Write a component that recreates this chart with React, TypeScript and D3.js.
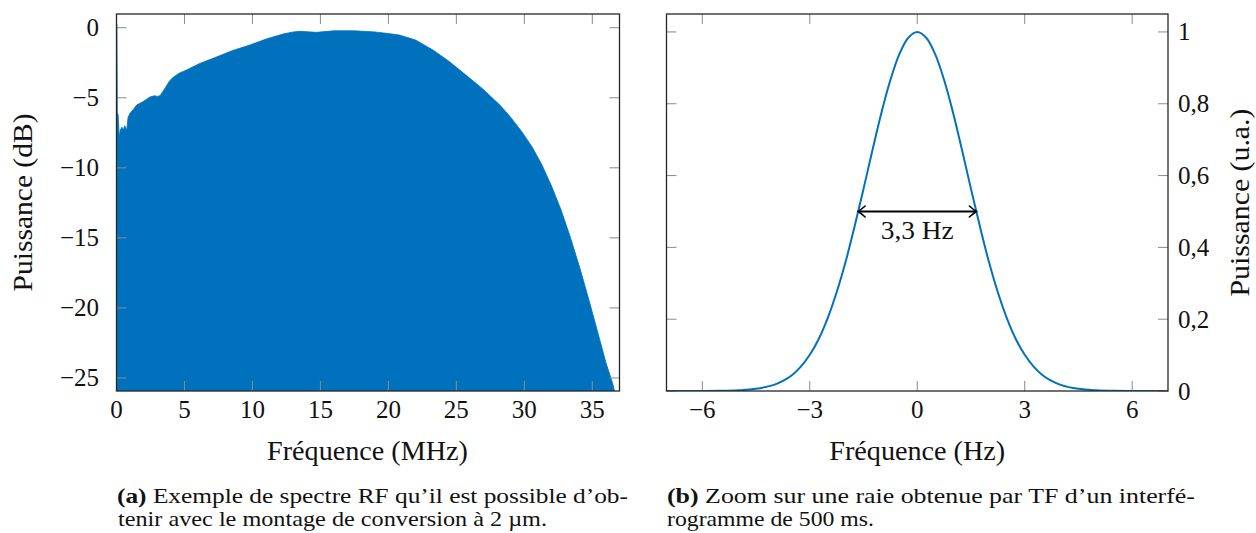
import React, { useLayoutEffect, useRef } from "react";
import * as d3 from "d3";

// ---- Left chart: RF spectrum (envelope of the dense bars) ----
const rfFreqMHz = [0, 0.03, 0.06, 0.12, 0.2, 0.28, 0.4, 0.5, 0.6, 0.75, 0.85, 1.0, 1.22, 1.5, 1.71, 2.0, 2.45, 2.8, 3.0, 3.2, 3.45, 3.68, 3.9, 4.16, 4.6, 5.15, 6.12, 7.3, 8.5, 9.8, 11.0, 12.25, 13.0, 13.5, 14.7, 16.0, 17.5, 19.0, 20.0, 20.8, 22.0, 23.3, 24.5, 25.7, 26.9, 28.2, 29.0, 29.8, 30.6, 31.3, 32.0, 32.7, 33.4, 34.1, 34.8, 35.5, 36.0, 36.5, 36.65];
const rfPowerDb = [0.25, 0.25, -6.1, -6.2, -7.8, -7.3, -7.1, -7.3, -7.0, -7.3, -6.4, -6.1, -5.85, -5.5, -5.4, -5.25, -4.95, -4.85, -4.9, -4.85, -4.5, -4.15, -3.8, -3.55, -3.25, -3.02, -2.55, -2.11, -1.64, -1.24, -0.81, -0.45, -0.3, -0.26, -0.33, -0.22, -0.22, -0.3, -0.42, -0.52, -0.88, -1.6, -2.43, -3.38, -4.33, -5.52, -6.4, -7.4, -8.55, -9.8, -11.3, -13.0, -15.0, -17.2, -19.6, -22.1, -23.9, -25.4, -26];
const leftXTicks = [0, 5, 10, 15, 20, 25, 30, 35];
const leftYTicks = [0, -5, -10, -15, -20, -25];

// ---- Right chart: zoom on one line ----
const lineFreqHz = [-7, -6, -5.5, -5, -4.5, -4, -3.75, -3.5, -3.25, -3, -2.75, -2.5, -2.25, -2, -1.75, -1.5, -1.25, -1, -0.75, -0.5, -0.25, 0, 0.25, 0.5, 0.75, 1, 1.25, 1.5, 1.75, 2, 2.25, 2.5, 2.75, 3, 3.25, 3.5, 3.75, 4, 4.5, 5, 5.5, 6, 7];
const linePower = [0, 0.0001, 0.0005, 0.002, 0.006, 0.017, 0.028, 0.044, 0.068, 0.101, 0.145, 0.203, 0.275, 0.36, 0.458, 0.563, 0.671, 0.775, 0.866, 0.938, 0.984, 1, 0.984, 0.938, 0.866, 0.775, 0.671, 0.563, 0.458, 0.36, 0.275, 0.203, 0.145, 0.101, 0.068, 0.044, 0.028, 0.017, 0.006, 0.002, 0.0005, 0.0001, 0];
const rightXTicks = [-6, -3, 0, 3, 6];
const rightYTicks = [0, 0.2, 0.4, 0.6, 0.8, 1];
const fwhmHz = 3.3;
const fwhmLabel = "3,3 Hz";

const FONT = "Liberation Serif, Times New Roman, Times, serif";
const BLUE = "#0072BD";
const FRAME = "#262626";
const TICK = "#8a8a8a";
const TICK_LEN = 10;
const TXT = "#111";

const fmtMinus = (v: number) => (v < 0 ? "\u2212" + Math.abs(v) : String(v));
const fmtComma = (v: number) => String(v).replace(".", ",");

const T = (props: any) => <text {...props} style={{ fontFamily: FONT }} fill={TXT} />;

export default function App() {
  const svgRef = useRef<SVGSVGElement | null>(null);

  // Fit axis titles to the widths measured on the reference (font size within limits, then pinned length).
  useLayoutEffect(() => {
    if (!svgRef.current) return;
    d3.select(svgRef.current)
      .selectAll<SVGTextElement, unknown>("text[data-fit]")
      .each(function () {
        const target = +(this.getAttribute("data-fit") || 0);
        const base = +(this.getAttribute("data-base") || 20);
        this.removeAttribute("textLength");
        this.setAttribute("font-size", String(base));
        const w = this.getComputedTextLength();
        if (w > 0) {
          const fs = Math.max(base * 0.9, Math.min(base * 1.08, (base * target) / w));
          this.setAttribute("font-size", String(fs));
        }
        this.setAttribute("textLength", String(target));
        this.setAttribute("lengthAdjust", "spacingAndGlyphs");
      });
  }, []);

  // Left plot geometry
  const L = { x0: 116.5, x1: 619.5, y0: 14, y1: 391 };
  const lx = d3.scaleLinear().domain([0, 37]).range([L.x0, L.x1]);
  const ly = d3.scaleLinear().domain([-25.93, 0.98]).range([L.y1, L.y0]);
  const rfData = rfFreqMHz.map((f, i) => [f, rfPowerDb[i]] as [number, number]);
  const rfArea = d3
    .area<[number, number]>()
    .x((d) => lx(d[0]))
    .y0(L.y1)
    .y1((d) => ly(d[1]))
    .curve(d3.curveLinear)(rfData) as string;

  // Right plot geometry
  const R = { x0: 666.5, x1: 1168, y0: 14, y1: 391 };
  const rx = d3.scaleLinear().domain([-7, 7]).range([R.x0, R.x1]);
  const ry = d3.scaleLinear().domain([0, 1.05]).range([R.y1, R.y0]);
  const lineData = lineFreqHz.map((f, i) => [f, linePower[i]] as [number, number]);
  const linePath = d3
    .line<[number, number]>()
    .x((d) => rx(d[0]))
    .y((d) => ry(d[1]))
    .curve(d3.curveCatmullRom)(lineData) as string;

  const ax1 = rx(-fwhmHz / 2);
  const ax2 = rx(fwhmHz / 2);
  const ay = ry(0.5);

  const arrowHead = (tipX: number, dir: number) => {
    const b = 7 * dir;
    return `M${tipX + b},${ay - 5.5} Q${tipX + b * 0.35},${ay - 1.5} ${tipX},${ay} Q${tipX + b * 0.35},${ay + 1.5} ${tipX + b},${ay + 5.5}`;
  };

  return (
    <svg
      ref={svgRef}
      width={1256}
      height={533}
      style={{ position: "absolute", left: 0, top: 0, background: "#fff", fontFamily: FONT }}
    >
      <defs>
        <clipPath id="clipL">
          <rect x={L.x0} y={L.y0} width={L.x1 - L.x0} height={L.y1 - L.y0} />
        </clipPath>
        <clipPath id="clipR">
          <rect x={R.x0} y={R.y0} width={R.x1 - R.x0} height={R.y1 - R.y0} />
        </clipPath>
      </defs>

      {/* ---------- Left chart ---------- */}
      <g clipPath="url(#clipL)">
        <path d={rfArea} fill={BLUE} stroke={BLUE} strokeWidth={0.8} />
      </g>
      {leftXTicks.map((t) => (
        <g key={"lxt" + t} stroke={TICK} strokeWidth={1}>
          <line x1={lx(t)} x2={lx(t)} y1={L.y1} y2={L.y1 - TICK_LEN} />
          <line x1={lx(t)} x2={lx(t)} y1={L.y0} y2={L.y0 + TICK_LEN} />
        </g>
      ))}
      {leftYTicks.map((t) => (
        <g key={"lyt" + t} stroke={TICK} strokeWidth={1}>
          <line x1={L.x0} x2={L.x0 + TICK_LEN} y1={ly(t)} y2={ly(t)} />
          <line x1={L.x1} x2={L.x1 - TICK_LEN} y1={ly(t)} y2={ly(t)} />
        </g>
      ))}
      <rect x={L.x0} y={L.y0} width={L.x1 - L.x0} height={L.y1 - L.y0} fill="none" stroke={FRAME} strokeWidth={1.3} />
      {leftXTicks.map((t) => (
        <T key={"lxl" + t} x={lx(t)} y={418} fontSize={25} textAnchor="middle">
          {fmtMinus(t)}
        </T>
      ))}
      {leftYTicks.map((t) => (
        <T key={"lyl" + t} x={99} y={ly(t) + 8.5} fontSize={25} textAnchor="end">
          {fmtMinus(t)}
        </T>
      ))}
      <T x={367.5} y={460} fontSize={26} data-base={26} data-fit={201} textAnchor="middle">
        Fréquence (MHz)
      </T>
      <T
        transform={`translate(32,${(L.y0 + L.y1) / 2}) rotate(-90)`}
        fontSize={26}
        data-base={26}
        data-fit={178}
        textAnchor="middle"
      >
        Puissance (dB)
      </T>

      {/* ---------- Right chart ---------- */}
      <g clipPath="url(#clipR)">
        <path d={linePath} fill="none" stroke={BLUE} strokeWidth={2} />
      </g>
      {rightXTicks.map((t) => (
        <g key={"rxt" + t} stroke={TICK} strokeWidth={1}>
          <line x1={rx(t)} x2={rx(t)} y1={R.y1} y2={R.y1 - TICK_LEN} />
          <line x1={rx(t)} x2={rx(t)} y1={R.y0} y2={R.y0 + TICK_LEN} />
        </g>
      ))}
      {rightYTicks.map((t) => (
        <g key={"ryt" + t} stroke={TICK} strokeWidth={1}>
          <line x1={R.x0} x2={R.x0 + TICK_LEN} y1={ry(t)} y2={ry(t)} />
          <line x1={R.x1} x2={R.x1 - TICK_LEN} y1={ry(t)} y2={ry(t)} />
        </g>
      ))}
      <rect x={R.x0} y={R.y0} width={R.x1 - R.x0} height={R.y1 - R.y0} fill="none" stroke={FRAME} strokeWidth={1.3} />

      {/* FWHM arrow */}
      <line x1={ax1 + 0.5} x2={ax2 - 0.5} y1={ay} y2={ay} stroke="#000" strokeWidth={1.8} />
      <path d={arrowHead(ax1, 1)} fill="none" stroke="#000" strokeWidth={1.6} strokeLinecap="round" />
      <path d={arrowHead(ax2, -1)} fill="none" stroke="#000" strokeWidth={1.6} strokeLinecap="round" />
      <T x={(ax1 + ax2) / 2} y={238.5} fontSize={25} textAnchor="middle" textLength={73} lengthAdjust="spacingAndGlyphs">
        {fwhmLabel}
      </T>

      {rightXTicks.map((t) => (
        <T key={"rxl" + t} x={rx(t)} y={418} fontSize={25} textAnchor="middle">
          {fmtMinus(t)}
        </T>
      ))}
      {rightYTicks.map((t) => (
        <T key={"ryl" + t} x={1178} y={ry(t) + 8.5} fontSize={25} textAnchor="start">
          {fmtComma(t)}
        </T>
      ))}
      <T x={(R.x0 + R.x1) / 2} y={460} fontSize={26} data-base={26} data-fit={176} textAnchor="middle">
        Fréquence (Hz)
      </T>
      <T
        transform={`translate(1249,${(R.y0 + R.y1) / 2}) rotate(-90)`}
        fontSize={26}
        data-base={26}
        data-fit={188}
        textAnchor="middle"
      >
        Puissance (u.a.)
      </T>

      {/* ---------- Captions ---------- */}
      <T x={117} y={503} fontSize={22} textLength={511} lengthAdjust="spacingAndGlyphs">
        <tspan fontWeight="bold">(a)</tspan> Exemple de spectre RF qu’il est possible d’ob-
      </T>
      <T x={118} y={526} fontSize={22} textLength={429} lengthAdjust="spacingAndGlyphs">
        tenir avec le montage de conversion à 2 µm.
      </T>
      <T x={667} y={503} fontSize={22} textLength={528} lengthAdjust="spacingAndGlyphs">
        <tspan fontWeight="bold">(b)</tspan> Zoom sur une raie obtenue par TF d’un interfé-
      </T>
      <T x={667} y={526} fontSize={22} textLength={207} lengthAdjust="spacingAndGlyphs">
        rogramme de 500 ms.
      </T>
    </svg>
  );
}
